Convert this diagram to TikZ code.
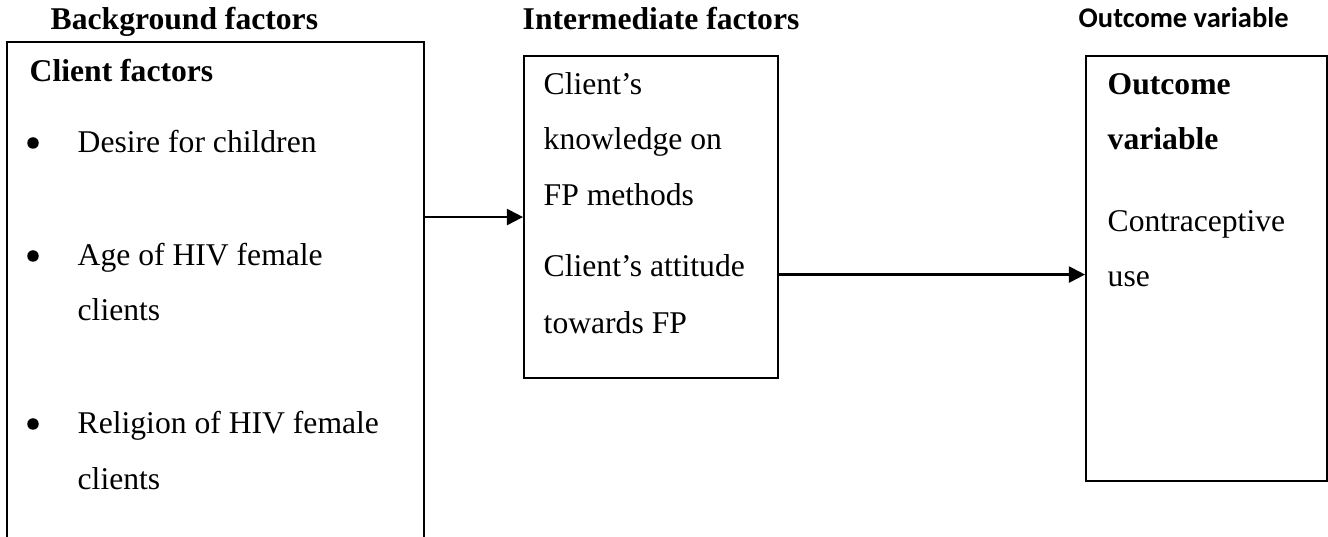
\documentclass[tikz,border=0pt]{standalone}
\usepackage{fontspec}
\setmainfont{Liberation Serif}
\newfontfamily\calibrifont{Carlito}
\usepackage{tikz}
\usetikzlibrary{arrows.meta,positioning,calc}
\tikzset{
  >={Triangle[length=4.6pt,width=4.6pt]},
  boxline/.style={draw=black, line width=0.6pt, inner sep=0pt},
  flow/.style={line width=0.6pt, ->},
  hdr/.style={font=\fontsize{9}{10}\selectfont\bfseries, anchor=base west, inner sep=0pt},
  hdrsans/.style={font=\calibrifont\fontsize{8.1}{10}\selectfont\bfseries, anchor=base west, inner sep=0pt},
  txt/.style={font=\fontsize{9}{10}\selectfont, anchor=base west, inner sep=0pt},
  txtbold/.style={txt, font=\fontsize{9}{10}\selectfont\bfseries},
  bul/.style={circle, fill=black, minimum size=0.115cm, inner sep=0pt},
}

\begin{document}
\begin{tikzpicture}[line cap=butt, line join=miter]
\useasboundingbox (0,0) rectangle (13.28,5.37);

% ===================== column headings =====================
\node[hdr] (hbg) at (0.50,5.07) {Background factors};
\node[hdr] (hint) at (5.22,5.07) {Intermediate factors};
\node[hdrsans] (hout) at (10.78,5.09) {Outcome variable};

% ===================== background box (open at the bottom) =====================
\node[inner sep=0pt, minimum width=4.16cm, minimum height=5.3cm, anchor=north west]
  (bgbox) at (0.07,4.95) {};
\draw[line width=0.6pt] (bgbox.south west) -- (bgbox.north west)
  -- (bgbox.north east) -- (bgbox.south east);
\node[txtbold] (cf) at (0.29,4.55) {Client factors};
\node[bul] (b1) at (0.33,3.94) {};
\node[txt] (it1) at (0.77,3.84) {Desire for children};
\node[bul] (b2) at (0.33,2.81) {};
\node[txt] (it2a) at (0.77,2.71) {Age of HIV female};
\node[txt] (it2b) at (0.77,2.16) {clients};
\node[bul] (b3) at (0.33,1.13) {};
\node[txt] (it3a) at (0.77,1.03) {Religion of HIV female};
\node[txt] (it3b) at (0.77,0.48) {clients};

% ===================== intermediate box =====================
\node[boxline, minimum width=2.54cm, minimum height=3.22cm, anchor=north west]
  (midbox) at (5.23,4.82) {};
\node[txt] (m1) at (5.43,4.42) {Client’s};
\node[txt] (m2) at (5.43,3.87) {knowledge on};
\node[txt] (m3) at (5.43,3.31) {FP methods};
\node[txt] (m4) at (5.43,2.60) {Client’s attitude};
\node[txt] (m5) at (5.43,2.03) {towards FP};

% ===================== outcome box =====================
\node[boxline, minimum width=2.41cm, minimum height=4.25cm, anchor=north west]
  (outbox) at (10.85,4.82) {};
\node[txtbold] (o1) at (11.07,4.42) {Outcome};
\node[txtbold] (o2) at (11.07,3.87) {variable};
\node[txt] (o3) at (11.07,3.05) {Contraceptive};
\node[txt] (o4) at (11.07,2.50) {use};

% ===================== arrows =====================
\draw[flow] (bgbox.east |- midbox.west) -- (midbox.west);
\draw[flow] ([yshift=-0.06cm]midbox.east |- outbox.west) -- ([yshift=-0.06cm]outbox.west);

\end{tikzpicture}
\end{document}
